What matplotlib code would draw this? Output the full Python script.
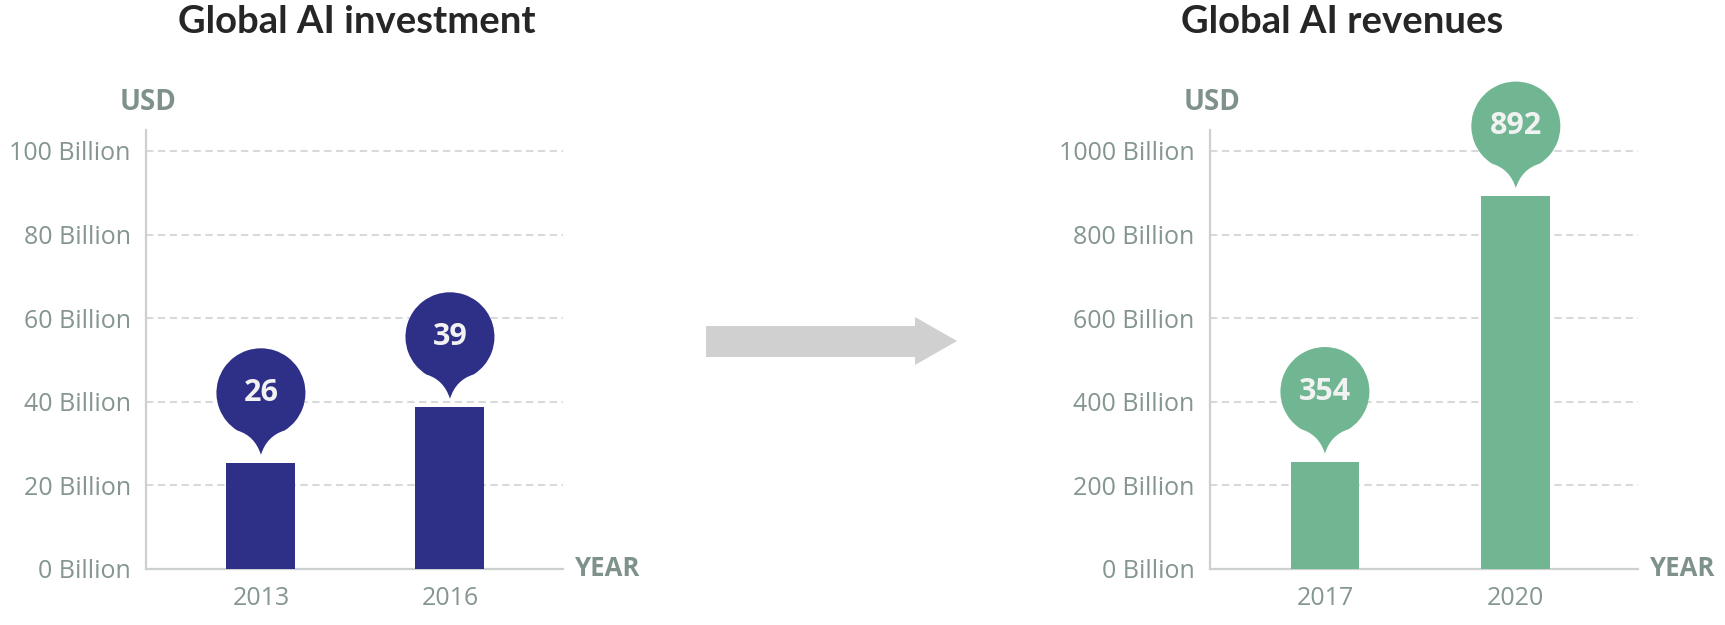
import matplotlib
matplotlib.use("Agg")
import matplotlib.pyplot as plt
from matplotlib.path import Path
import matplotlib.patches as mpatches
import matplotlib.transforms as mtransforms

# ---------------- data ----------------
invest_years = ["2013", "2016"]
invest_values = [25.4, 38.8]
invest_labels = ["26", "39"]
invest_ticks = [0, 20, 40, 60, 80, 100]

revenue_years = ["2017", "2020"]
revenue_values = [257, 892]
revenue_labels = ["354", "892"]
revenue_ticks = [0, 200, 400, 600, 800, 1000]

titles = ["Global AI investment", "Global AI revenues"]

# ---------------- style ----------------
NAVY = "#2e3087"
GREEN = "#71b692"
TICK_C = "#84968f"
LABEL_C = "#7e918a"
AXIS_C = "#ccd0d0"
GRID_C = "#d6dadb"
TITLE_C = "#262626"
W, H = 1725, 625

fig = plt.figure(figsize=(W / 100, H / 100), dpi=100)


def bubble_path(r=44.5, cy=70.0, tip=8.0, ang=58):
    arc = Path.arc(-ang, 180 + ang)
    verts = [(vx * r, vy * r + cy) for vx, vy in arc.vertices]
    codes = list(arc.codes)
    sx, sy = verts[0]
    verts += [(-6.0, 27.0), (0.0, tip), (6.0, 27.0), (sx, sy), (sx, sy)]
    codes += [Path.CURVE3, Path.CURVE3, Path.CURVE3, Path.CURVE3, Path.CLOSEPOLY]
    return Path(verts, codes)


def draw(rect, years, values, labels, ticks, ymax, color, xlim, width):
    ax = fig.add_axes(rect)
    x = list(range(len(years)))
    ax.bar(x, values, width=width, color=color, zorder=3)
    ax.set_xticks(x)
    ax.set_xticklabels(years)
    ax.set_yticks(ticks)
    ax.set_yticklabels([f"{t} Billion" for t in ticks])
    for s in ["top", "right"]:
        ax.spines[s].set_visible(False)
    for s in ["left", "bottom"]:
        ax.spines[s].set_color(AXIS_C)
        ax.spines[s].set_linewidth(1.6)
    ax.tick_params(length=0, labelsize=18, labelcolor=TICK_C)
    ax.tick_params(axis="y", pad=11)
    ax.tick_params(axis="x", pad=12)
    for lab in ax.get_xticklabels() + ax.get_yticklabels():
        lab.set_family("Open Sans")
    ax.yaxis.grid(True, color=GRID_C, linestyle=(0, (3.5, 2.2)), linewidth=1.5)
    ax.set_axisbelow(True)

    path = bubble_path()
    for xi, v, lab in zip(x, values, labels):
        trans = mtransforms.Affine2D() + mtransforms.ScaledTranslation(xi, v, ax.transData)
        patch = mpatches.PathPatch(path, facecolor=color, edgecolor="none",
                                   transform=trans, clip_on=False, zorder=4)
        ax.add_artist(patch)
        ax.annotate(lab, xy=(xi, v), xytext=(0, 70), textcoords="offset pixels",
                    ha="center", va="center", fontsize=22, fontweight="bold",
                    color="#f2f2f2", family="Open Sans", zorder=5,
                    annotation_clip=False)

    ax.set_xlim(*xlim)
    ax.set_ylim(0, ymax)

    ax.annotate("USD", xy=(0, 1), xycoords="axes fraction", xytext=(2, 27),
                textcoords="offset pixels", ha="center", va="center",
                fontsize=20, fontweight="bold", color=LABEL_C,
                family=["Liberation Sans Narrow", "Open Sans"])
    ax.annotate("YEAR", xy=(1, 0), xycoords="axes fraction", xytext=(12, 0),
                textcoords="offset pixels", ha="left", va="center",
                fontsize=18.5, fontweight="bold", color=LABEL_C,
                family=["Liberation Sans Narrow", "Open Sans"])
    return ax


bottom = (H - 569) / H
height = (569 - 130) / H

draw([146 / W, bottom, 417 / W, height], invest_years, invest_values, invest_labels,
     invest_ticks, 105, NAVY, (-0.608, 1.598), 0.365)
draw([1210 / W, bottom, 428 / W, height], revenue_years, revenue_values, revenue_labels,
     revenue_ticks, 1050, GREEN, (-0.602, 1.64), 0.36)

fig.text(357 / W, 1 - 33 / H, titles[0], ha="center", va="baseline", fontsize=27.5,
         fontweight="bold", family="Lato", color=TITLE_C)
fig.text(1342 / W, 1 - 33 / H, titles[1], ha="center", va="baseline", fontsize=27.5,
         fontweight="bold", family="Lato", color=TITLE_C)

# decorative arrow between panels
arrow_px = [(706, 326), (915, 326), (915, 317), (957, 341), (915, 365), (915, 357), (706, 357)]
arrow = mpatches.Polygon([(px / W, 1 - py / H) for px, py in arrow_px], closed=True,
                         facecolor="#d0d0d0", edgecolor="none", transform=fig.transFigure)
fig.add_artist(arrow)

fig.savefig("out.png", dpi=100)
